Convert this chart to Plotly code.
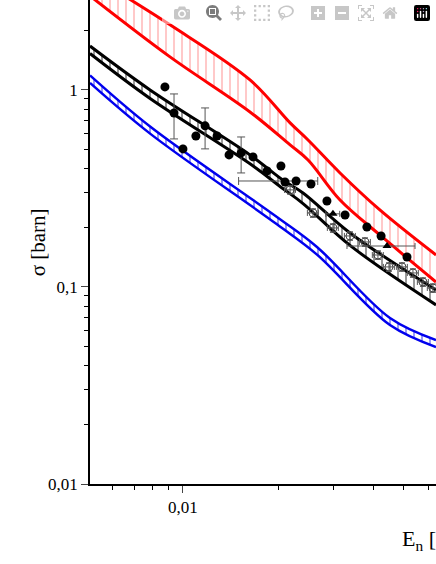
import numpy as np
import plotly.graph_objects as go

# ---- data ----
red_x = [0.00508, 0.0091, 0.0163, 0.02183, 0.02488, 0.03141, 0.04198, 0.0632]
red_hi = [3.84, 2.14, 1.124, 0.680, 0.557, 0.379, 0.246, 0.1453]
red_lo = [3.00, 1.471, 0.773, 0.526, 0.441, 0.2763, 0.1836, 0.106]

blk_x = [0.00508, 0.00787, 0.0163, 0.0207, 0.02399, 0.03377, 0.0632]
blk_hi = [1.67, 1.0, 0.468, 0.349, 0.300, 0.188, 0.0966]
blk_lo = [1.53, 0.905, 0.422, 0.316, 0.265, 0.1625, 0.0811]

blu_x = [0.00508, 0.00787, 0.01983, 0.02655, 0.04519, 0.0632]
blu_hi = [1.185, 0.652, 0.2266, 0.1596, 0.0696, 0.0538]
blu_lo = [1.085, 0.600, 0.208, 0.146, 0.0641, 0.0496]

fill_x = [0.00877, 0.00937, 0.0100, 0.01099, 0.01175, 0.01282, 0.01399, 0.01528, 0.01666,
          0.01846, 0.02042, 0.02103, 0.0228, 0.02542, 0.02855, 0.03258, 0.0382, 0.04236, 0.05116]
fill_y = [1.036, 0.764, 0.502, 0.584, 0.657, 0.584, 0.468, 0.479, 0.457,
          0.388, 0.411, 0.341, 0.345, 0.333, 0.273, 0.232, 0.2016, 0.1815, 0.142]
fill_ey_p = [0, 0.19, 0, 0, 0.153, 0, 0, 0.098, 0, 0, 0, 0, 0, 0, 0, 0, 0, 0, 0]
fill_ey_m = [0, 0.20, 0, 0, 0.155, 0, 0, 0.100, 0, 0, 0, 0, 0, 0, 0, 0, 0, 0, 0]
fill_ex_p = [0, 0, 0, 0, 0, 0, 0, 0, 0, 0, 0, 0, 0.0039, 0, 0, 0, 0, 0, 0]
fill_ex_m = [0, 0, 0, 0, 0, 0, 0, 0, 0, 0, 0, 0, 0.0078, 0, 0, 0, 0, 0, 0]

open_x = [0.02183, 0.02579, 0.02983, 0.03377, 0.03767, 0.0414, 0.04487, 0.04932, 0.05343, 0.05747, 0.0618]
open_y = [0.311, 0.2375, 0.1993, 0.1815, 0.1692, 0.1453, 0.1264, 0.1264, 0.1178, 0.106, 0.0988]

tri_x = [0.02983, 0.04424]
tri_y = [0.235, 0.1614]
tri_ex_p = [0.0015, 0.0100]
tri_ex_m = [0.0015, 0.0112]

x_ticks = [0.01]
x_ticktext = ["0,01"]
y_ticks = [0.01, 0.1, 1]
y_ticktext = ["0,01", "0,1", "1"]

fig = go.Figure()

def band(x, lo, hi, color, pat, lw, size, sol):
    fig.add_trace(go.Scatter(x=x, y=lo, mode="lines", line=dict(color=color, width=lw, shape="spline"),
                             hoverinfo="skip"))
    fig.add_trace(go.Scatter(x=x, y=hi, mode="lines", line=dict(color=color, width=lw, shape="spline"),
                             fill="tonexty", fillcolor="rgba(255,255,255,0)",
                             fillpattern=dict(shape="|", fgcolor=pat, bgcolor="rgba(255,255,255,0)",
                                              size=size, solidity=sol),
                             hoverinfo="skip"))

band(red_x, red_lo, red_hi, "#ff0000", "rgba(255,40,40,0.85)", 3, 8, 0.15)
band(blk_x, blk_lo, blk_hi, "#000000", "#000000", 3, 8, 0.2)
band(blu_x, blu_lo, blu_hi, "#0000ee", "#0000ee", 2.5, 8, 0.2)

ebc = "#555555"
fig.add_trace(go.Scatter(x=open_x, y=open_y, mode="markers",
                         marker=dict(symbol="circle-open", size=8, color="#444444", line=dict(width=1)),
                         error_x=dict(type="percent", value=4, color=ebc, thickness=1, width=3),
                         error_y=dict(type="percent", value=5, color=ebc, thickness=1, width=3)))
fig.add_trace(go.Scatter(x=tri_x, y=tri_y, mode="markers",
                         marker=dict(symbol="triangle-up", size=8, color="black"),
                         error_x=dict(type="data", array=tri_ex_p, arrayminus=tri_ex_m, color=ebc,
                                      thickness=1, width=3)))
fig.add_trace(go.Scatter(x=fill_x, y=fill_y, mode="markers",
                         marker=dict(symbol="circle", size=9, color="black"),
                         error_y=dict(type="data", array=fill_ey_p, arrayminus=fill_ey_m, color=ebc,
                                      thickness=1, width=4),
                         error_x=dict(type="data", array=fill_ex_p, arrayminus=fill_ex_m, color=ebc,
                                      thickness=1, width=4)))

def minors(lo, hi):
    v = []
    for d in range(lo, hi):
        for m in range(2, 10):
            v.append(m * 10.0 ** d)
    return v

font = dict(family="Liberation Serif", size=17, color="black")
fig.update_xaxes(type="log", range=[np.log10(0.00508), np.log10(0.0632)],
                 tickvals=x_ticks, ticktext=x_ticktext, ticks="outside", ticklen=7,
                 showline=True, linecolor="black", linewidth=1.5, showgrid=False, zeroline=False,
                 tickfont=font, minor=dict(tickvals=minors(-3, -1), ticks="outside", ticklen=4,
                                           tickcolor="black", showgrid=False))
fig.update_yaxes(type="log", range=[-2, np.log10(2.86)],
                 tickvals=y_ticks, ticktext=y_ticktext, ticks="outside", ticklen=7,
                 showline=True, linecolor="black", linewidth=1.5, showgrid=False, zeroline=False,
                 tickfont=font, minor=dict(tickvals=minors(-2, 1), ticks="outside", ticklen=4,
                                           tickcolor="black", showgrid=False))
fig.update_layout(width=436, height=564, margin=dict(l=90, r=0, t=0, b=80),
                  paper_bgcolor="white", plot_bgcolor="white", showlegend=False,
                  annotations=[
                      dict(text="σ [barn]", x=-0.19, y=0.5, xref="paper", yref="paper", textangle=-90,
                           showarrow=False, font=dict(family="Liberation Serif", size=21, color="black")),
                      dict(text="E<sub>n</sub> [MeV]", x=(400 - 90) / 346, y=-0.115, xref="paper", yref="paper",
                           xanchor="left", yanchor="middle", showarrow=False,
                           font=dict(family="Liberation Serif", size=22, color="black")),
                  ])
fig.write_html("out.html",
               post_script="document.body.style.margin='0';document.body.style.overflow='hidden';")
